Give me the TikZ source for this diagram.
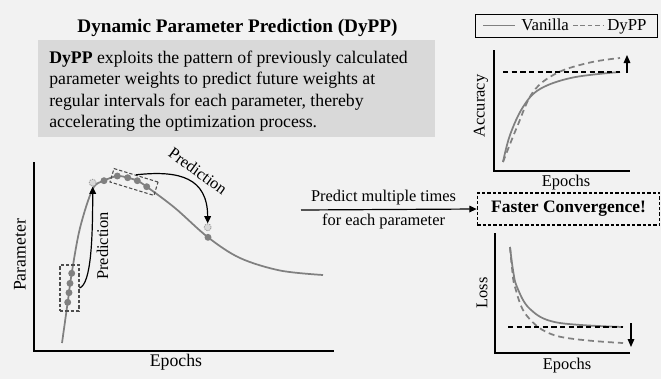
\documentclass[tikz,border=0pt]{standalone}
\usepackage{fontspec}
\setmainfont{Liberation Serif}
\usetikzlibrary{arrows.meta,calc}
\definecolor{bg}{HTML}{F2F2F2}
\definecolor{boxg}{HTML}{D9D9D9}
\definecolor{curveg}{HTML}{808080}
\definecolor{rectg}{HTML}{4D4D4D}
\definecolor{pdotedge}{HTML}{9A9A9A}
\tikzset{
  axisline/.style={line width=1.5pt, black},
  saxis/.style={line width=1.1pt, black},
  gcurve/.style={curveg, line width=1.3pt},
  gdash/.style={curveg, line width=1.3pt, dash pattern=on 4.5pt off 3pt},
  bdash/.style={black, line width=0.8pt, dash pattern=on 4pt off 2.5pt},
  dotnode/.style={circle, fill=curveg, inner sep=0pt, minimum size=5.2pt},
  pdot/.style={circle, fill=boxg, draw=pdotedge, dash pattern=on 1pt off 0.8pt, line width=0.6pt, inner sep=0pt, minimum size=5.2pt},
  selbox/.style={draw=rectg, dash pattern=on 2.5pt off 1.5pt, line width=0.8pt, inner sep=0pt},
  arr/.style={-{Triangle[length=5.5pt,width=5pt]}, line width=0.9pt},
  lbl/.style={font=\fontsize{13.3}{15}\selectfont, inner sep=0pt},
  slbl/.style={font=\fontsize{12.3}{14}\selectfont, inner sep=0pt},
  leglbl/.style={font=\fontsize{12.6}{14}\selectfont, inner sep=0pt, anchor=base west},
}
\begin{document}
\begin{tikzpicture}[x=0.75pt,y=-0.75pt]
\useasboundingbox (0,0) rectangle (661,379);
\fill[bg] (0,0) rectangle (661,379);

% title and description
\node[anchor=base, font=\fontsize{14.4}{16}\selectfont\bfseries, inner sep=0pt] (title) at (237.5,32) {Dynamic Parameter Prediction (DyPP)};
\fill[boxg] (38,40) rectangle (435,137);
\node[anchor=north west, align=left, inner sep=0pt, font=\fontsize{13.3}{16.1}\selectfont] (desc) at (49,50.7)
  {\textbf{DyPP} exploits the pattern of previously calculated\\
   parameter weights to predict future weights at\\
   regular intervals for each parameter, thereby\\
   accelerating the optimization process.};

% main plot axes
\coordinate (ytop) at (34,162);
\coordinate (orig) at (34,351);
\coordinate (xend) at (334,351);
\draw[axisline] (ytop) -- (orig) -- (xend);
\node[lbl, rotate=90] (ylab) at (20,255) {Parameter};
\node[lbl, anchor=base] (xlab) at (176,366) {Epochs};

% main curve
\draw[gcurve] plot[smooth, tension=0.55] coordinates {(62,343) (67.7,302.3) (71.7,273.3) (80,228) (92.7,189) (104,180.7) (117.3,176) (127.7,177.7) (137.3,180.7) (146.7,186.7) (175,208) (208,237.3) (240,258) (280,270.5) (323,275)};

% dots
\node[dotnode] (a1) at (67.7,302.3) {};
\node[dotnode] (a2) at (69,292.7) {};
\node[dotnode] (a3) at (70,283.3) {};
\node[dotnode] (a4) at (71.7,273.3) {};
\node[pdot] (p1) at (92.7,182.7) {};
\node[dotnode] (b0) at (104,180.7) {};
\node[dotnode] (b1) at (117.3,176) {};
\node[dotnode] (b2) at (127.7,177.7) {};
\node[dotnode] (b3) at (137.3,180.7) {};
\node[dotnode] (b4) at (146.7,186.7) {};
\node[pdot] (p2) at (207.7,227.3) {};
\node[dotnode] (c1) at (208,237.3) {};

% selection boxes
\node[selbox, minimum width=14.25pt, minimum height=34.5pt] (r1) at (69.5,288) {};
\node[selbox, minimum width=34.5pt, minimum height=10.5pt, rotate=-17] (r2) at (134,182) {};

% prediction arrows
\draw[arr] (r1.east) .. controls (91,284) and (92.7,240) .. (p1.south);
\node[slbl, rotate=90] (pl1) at (102.5,246) {Prediction};
\draw[arr] (r2.north) .. controls (180,170) and (207.5,178) .. (p2.north);
\node[slbl, rotate=-36] (pl2) at (198,171) {Prediction};

% faster convergence
\node[draw=black, dash pattern=on 2.5pt off 1.5pt, line width=0.8pt, minimum width=137pt, minimum height=24pt, inner sep=0pt, font=\fontsize{13.1}{15}\selectfont\bfseries] (fc) at (568.5,209) {Faster Convergence!};
\coordinate (hstart) at (301,210);
\draw[arr] (hstart) -- (fc.west)
  node[pos=0.47, above=3pt, slbl] (h1) {Predict multiple times}
  node[pos=0.47, below=3pt, slbl] (h2) {for each parameter};

% legend
\node[draw=black, line width=0.6pt, minimum width=136.5pt, minimum height=17.25pt, inner sep=0pt] (leg) at (566,25.5) {};
\coordinate (l1a) at (483,25.5);
\coordinate (l1b) at (515,25.5);
\coordinate (l2a) at (573,25.5);
\coordinate (l2b) at (603,25.5);
\draw[curveg, line width=1.1pt] (l1a) -- (l1b);
\draw[curveg, line width=1.1pt, dash pattern=on 3.4pt off 2.2pt] (l2a) -- (l2b);
\node[leglbl] (lv) at (521,30.5) {Vanilla};
\node[leglbl] (ld) at (607,30.5) {DyPP};

% accuracy plot
\coordinate (ay) at (494,50);
\coordinate (ao) at (494,171);
\coordinate (ax) at (630,171);
\draw[saxis] (ay) -- (ao) -- (ax);
\node[slbl, rotate=90] (alab) at (481,106) {Accuracy};
\node[slbl, anchor=base] (aep) at (566,186) {Epochs};
\draw[gcurve] plot[smooth, tension=0.6] coordinates {(503,162) (510,135) (523,107) (540,89) (573,77.5) (620,72)};
\draw[gdash] plot[smooth, tension=0.6] coordinates {(503,162) (517,127) (533,92) (557,73) (590,62.5) (620,58)};
\coordinate (ad1) at (503,72);
\coordinate (ad2) at (620,72);
\draw[bdash] (ad1) -- (ad2);
\coordinate (aa1) at (627,73);
\coordinate (aa2) at (627,55);
\draw[-{Triangle[length=6pt,width=5pt]}, line width=0.8pt] (aa1) -- (aa2);

% loss plot
\coordinate (ly) at (495,233);
\coordinate (lo) at (495,353);
\coordinate (lx) at (630,353);
\draw[saxis] (ly) -- (lo) -- (lx);
\node[slbl, rotate=90] (llab) at (482,293) {Loss};
\node[slbl, anchor=base] (lep) at (567,369) {Epochs};
\draw[gcurve] plot[smooth, tension=0.6] coordinates {(510,247) (513,270) (517,287) (530,309) (557,322.5) (623,327)};
\draw[gdash] plot[smooth, tension=0.6] coordinates {(510,247) (512,268) (515,287) (527,316) (557,336) (623,343)};
\coordinate (ld1) at (508,327);
\coordinate (ld2) at (623,327);
\draw[bdash] (ld1) -- (ld2);
\coordinate (la1) at (631,323);
\coordinate (la2) at (631,347);
\draw[-{Triangle[length=6pt,width=5pt]}, line width=0.8pt] (la1) -- (la2);
\end{tikzpicture}
\end{document}
